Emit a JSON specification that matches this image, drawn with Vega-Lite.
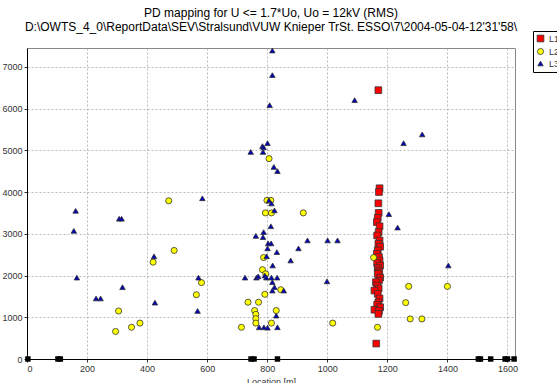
{
  "$schema": "https://vega.github.io/schema/vega-lite/v6.json",
  "autosize": "none",
  "width": 488,
  "height": 311,
  "padding": {"left": 27, "top": 48, "right": 42, "bottom": 24},
  "background": "white",
  "config": {
    "font": "Liberation Sans",
    "view": {"stroke": "#888", "strokeWidth": 1},
    "axis": {
      "labelFont": "Liberation Sans",
      "labelFontSize": 9,
      "labelColor": "#333",
      "domainColor": "#000",
      "tickColor": "#333",
      "tickSize": 3,
      "gridColor": "#aaa",
      "gridDash": [2, 2],
      "gridWidth": 0.8,
      "titleFont": "Liberation Sans",
      "titleFontSize": 9,
      "titleFontWeight": "normal",
      "titleColor": "#333"
    }
  },
  "title": {
    "text": ["PD mapping for U <= 1.7*Uo, Uo = 12kV (RMS)", "D:\\OWTS_4_0\\ReportData\\SEV\\Stralsund\\VUW Knieper TrSt. ESSO\\7\\2004-05-04-12'31'58\\"],
    "font": "Liberation Sans",
    "fontSize": 12,
    "fontWeight": "normal",
    "color": "#000",
    "lineHeight": 14,
    "anchor": "middle",
    "frame": "group",
    "offset": -3
  },
  "datasets": {
    "pd": [
      {"x": 1170, "y": 6440, "phase": "L1"},
      {"x": 1174, "y": 4090, "phase": "L1"},
      {"x": 1172, "y": 4000, "phase": "L1"},
      {"x": 1170, "y": 3730, "phase": "L1"},
      {"x": 1171, "y": 3500, "phase": "L1"},
      {"x": 1168, "y": 3380, "phase": "L1"},
      {"x": 1165, "y": 3280, "phase": "L1"},
      {"x": 1174, "y": 3180, "phase": "L1"},
      {"x": 1171, "y": 3040, "phase": "L1"},
      {"x": 1166, "y": 2960, "phase": "L1"},
      {"x": 1174, "y": 2840, "phase": "L1"},
      {"x": 1170, "y": 2760, "phase": "L1"},
      {"x": 1176, "y": 2690, "phase": "L1"},
      {"x": 1168, "y": 2600, "phase": "L1"},
      {"x": 1165, "y": 2520, "phase": "L1"},
      {"x": 1172, "y": 2440, "phase": "L1"},
      {"x": 1174, "y": 2360, "phase": "L1"},
      {"x": 1166, "y": 2300, "phase": "L1"},
      {"x": 1176, "y": 2240, "phase": "L1"},
      {"x": 1168, "y": 2180, "phase": "L1"},
      {"x": 1170, "y": 2120, "phase": "L1"},
      {"x": 1173, "y": 2080, "phase": "L1"},
      {"x": 1168, "y": 2040, "phase": "L1"},
      {"x": 1176, "y": 1950, "phase": "L1"},
      {"x": 1172, "y": 1880, "phase": "L1"},
      {"x": 1162, "y": 1840, "phase": "L1"},
      {"x": 1166, "y": 1760, "phase": "L1"},
      {"x": 1171, "y": 1690, "phase": "L1"},
      {"x": 1157, "y": 1640, "phase": "L1"},
      {"x": 1168, "y": 1560, "phase": "L1"},
      {"x": 1174, "y": 1450, "phase": "L1"},
      {"x": 1170, "y": 1360, "phase": "L1"},
      {"x": 1166, "y": 1300, "phase": "L1"},
      {"x": 1176, "y": 1240, "phase": "L1"},
      {"x": 1157, "y": 1180, "phase": "L1"},
      {"x": 1172, "y": 1150, "phase": "L1"},
      {"x": 1170, "y": 1080, "phase": "L1"},
      {"x": 1163, "y": 370, "phase": "L1"},

      {"x": 472, "y": 3790, "phase": "L2"},
      {"x": 490, "y": 2600, "phase": "L2"},
      {"x": 420, "y": 2320, "phase": "L2"},
      {"x": 564, "y": 1540, "phase": "L2"},
      {"x": 305, "y": 1150, "phase": "L2"},
      {"x": 376, "y": 860, "phase": "L2"},
      {"x": 348, "y": 760, "phase": "L2"},
      {"x": 295, "y": 660, "phase": "L2"},
      {"x": 799, "y": 3800, "phase": "L2"},
      {"x": 812, "y": 3800, "phase": "L2"},
      {"x": 794, "y": 3500, "phase": "L2"},
      {"x": 814, "y": 3500, "phase": "L2"},
      {"x": 920, "y": 3500, "phase": "L2"},
      {"x": 788, "y": 2430, "phase": "L2"},
      {"x": 784, "y": 2140, "phase": "L2"},
      {"x": 795, "y": 2040, "phase": "L2"},
      {"x": 581, "y": 1830, "phase": "L2"},
      {"x": 845, "y": 1660, "phase": "L2"},
      {"x": 792, "y": 1550, "phase": "L2"},
      {"x": 736, "y": 1360, "phase": "L2"},
      {"x": 771, "y": 1360, "phase": "L2"},
      {"x": 758, "y": 1160, "phase": "L2"},
      {"x": 830, "y": 1160, "phase": "L2"},
      {"x": 762, "y": 1070, "phase": "L2"},
      {"x": 762, "y": 965, "phase": "L2"},
      {"x": 762, "y": 860, "phase": "L2"},
      {"x": 714, "y": 760, "phase": "L2"},
      {"x": 814, "y": 860, "phase": "L2"},
      {"x": 1018, "y": 860, "phase": "L2"},
      {"x": 806, "y": 4800, "phase": "L2"},
      {"x": 1154, "y": 2430, "phase": "L2"},
      {"x": 1271, "y": 1740, "phase": "L2"},
      {"x": 1400, "y": 1740, "phase": "L2"},
      {"x": 1261, "y": 1350, "phase": "L2"},
      {"x": 1276, "y": 960, "phase": "L2"},
      {"x": 1315, "y": 960, "phase": "L2"},
      {"x": 1167, "y": 760, "phase": "L2"},

      {"x": 162, "y": 3550, "phase": "L3"},
      {"x": 156, "y": 3070, "phase": "L3"},
      {"x": 166, "y": 1950, "phase": "L3"},
      {"x": 230, "y": 1450, "phase": "L3"},
      {"x": 245, "y": 1450, "phase": "L3"},
      {"x": 307, "y": 3360, "phase": "L3"},
      {"x": 315, "y": 3360, "phase": "L3"},
      {"x": 318, "y": 1720, "phase": "L3"},
      {"x": 423, "y": 2460, "phase": "L3"},
      {"x": 426, "y": 1350, "phase": "L3"},
      {"x": 571, "y": 1950, "phase": "L3"},
      {"x": 568, "y": 1150, "phase": "L3"},
      {"x": 584, "y": 3850, "phase": "L3"},
      {"x": 806, "y": 3800, "phase": "L3"},
      {"x": 814, "y": 3725, "phase": "L3"},
      {"x": 824, "y": 3560, "phase": "L3"},
      {"x": 812, "y": 3180, "phase": "L3"},
      {"x": 788, "y": 3040, "phase": "L3"},
      {"x": 762, "y": 2950, "phase": "L3"},
      {"x": 786, "y": 2920, "phase": "L3"},
      {"x": 803, "y": 2770, "phase": "L3"},
      {"x": 813, "y": 2770, "phase": "L3"},
      {"x": 801, "y": 2650, "phase": "L3"},
      {"x": 832, "y": 2560, "phase": "L3"},
      {"x": 934, "y": 2840, "phase": "L3"},
      {"x": 904, "y": 2650, "phase": "L3"},
      {"x": 1001, "y": 2840, "phase": "L3"},
      {"x": 1034, "y": 2840, "phase": "L3"},
      {"x": 798, "y": 2460, "phase": "L3"},
      {"x": 878, "y": 2360, "phase": "L3"},
      {"x": 818, "y": 2240, "phase": "L3"},
      {"x": 726, "y": 1950, "phase": "L3"},
      {"x": 764, "y": 1950, "phase": "L3"},
      {"x": 770, "y": 1980, "phase": "L3"},
      {"x": 792, "y": 2000, "phase": "L3"},
      {"x": 797, "y": 1950, "phase": "L3"},
      {"x": 814, "y": 1950, "phase": "L3"},
      {"x": 833, "y": 1950, "phase": "L3"},
      {"x": 817, "y": 1840, "phase": "L3"},
      {"x": 824, "y": 1720, "phase": "L3"},
      {"x": 855, "y": 1640, "phase": "L3"},
      {"x": 817, "y": 1640, "phase": "L3"},
      {"x": 999, "y": 1860, "phase": "L3"},
      {"x": 830, "y": 1040, "phase": "L3"},
      {"x": 773, "y": 760, "phase": "L3"},
      {"x": 789, "y": 760, "phase": "L3"},
      {"x": 801, "y": 750, "phase": "L3"},
      {"x": 834, "y": 760, "phase": "L3"},
      {"x": 817, "y": 7390, "phase": "L3"},
      {"x": 817, "y": 6800, "phase": "L3"},
      {"x": 808, "y": 6080, "phase": "L3"},
      {"x": 1091, "y": 6200, "phase": "L3"},
      {"x": 801, "y": 5170, "phase": "L3"},
      {"x": 784, "y": 5100, "phase": "L3"},
      {"x": 788, "y": 5070, "phase": "L3"},
      {"x": 786, "y": 4960, "phase": "L3"},
      {"x": 745, "y": 4960, "phase": "L3"},
      {"x": 822, "y": 4600, "phase": "L3"},
      {"x": 834, "y": 4500, "phase": "L3"},
      {"x": 1316, "y": 5380, "phase": "L3"},
      {"x": 1254, "y": 5170, "phase": "L3"},
      {"x": 1205, "y": 3470, "phase": "L3"},
      {"x": 1234, "y": 3150, "phase": "L3"},
      {"x": 1403, "y": 2240, "phase": "L3"}
    ],
    "joints": [
      {"x": 3, "y": 0},
      {"x": 103, "y": 0},
      {"x": 111, "y": 0},
      {"x": 746, "y": 0},
      {"x": 756, "y": 0},
      {"x": 834, "y": 0},
      {"x": 1503, "y": 0},
      {"x": 1510, "y": 0},
      {"x": 1544, "y": 0},
      {"x": 1592, "y": 0},
      {"x": 1600, "y": 0},
      {"x": 1622, "y": 0}
    ]
  },
  "layer": [
    {
      "data": {"name": "joints"},
      "mark": {"type": "point", "shape": "square", "filled": true, "color": "#000", "size": 30, "opacity": 1},
      "encoding": {
        "x": {"field": "x", "type": "quantitative"},
        "y": {"field": "y", "type": "quantitative"}
      }
    },
    {
      "data": {"name": "pd"},
      "mark": {"type": "point", "filled": true, "opacity": 1, "stroke": "#333", "strokeWidth": 0.8},
      "encoding": {
        "x": {
          "field": "x",
          "type": "quantitative",
          "scale": {"domain": [0, 1625], "nice": false, "zero": false},
          "axis": {
            "values": [0, 100, 200, 300, 400, 500, 600, 700, 800, 900, 1000, 1100, 1200, 1300, 1400, 1500, 1600],
            "format": "d",
            "title": "Location [m]",
            "titlePadding": 4,
            "labelPadding": 2
          }
        },
        "y": {
          "field": "y",
          "type": "quantitative",
          "scale": {"domain": [0, 7450], "nice": false},
          "axis": {
            "values": [0, 500, 1000, 1500, 2000, 2500, 3000, 3500, 4000, 4500, 5000, 5500, 6000, 6500, 7000],
            "format": "d",
            "title": null,
            "labelPadding": 2
          }
        },
        "color": {
          "field": "phase",
          "type": "nominal",
          "scale": {"domain": ["L1", "L2", "L3"], "range": ["#ff0000", "#ffff00", "#0000bb"]},
          "legend": {
            "title": null,
            "orient": "none",
            "legendX": 506,
            "legendY": -17,
            "strokeColor": "#000",
            "fillColor": "#fff",
            "padding": 3,
            "rowPadding": 2,
            "symbolSize": 25,
            "symbolStrokeColor": "#333",
            "symbolStrokeWidth": 0.8,
            "labelFontSize": 9,
            "labelFont": "Liberation Sans",
            "labelColor": "#333"
          }
        },
        "shape": {
          "field": "phase",
          "type": "nominal",
          "scale": {"domain": ["L1", "L2", "L3"], "range": ["square", "circle", "triangle-up"]},
          "legend": {"title": null}
        },
        "size": {
          "field": "phase",
          "type": "nominal",
          "scale": {"domain": ["L1", "L2", "L3"], "range": [45, 30, 30]},
          "legend": null
        }
      }
    }
  ]
}
